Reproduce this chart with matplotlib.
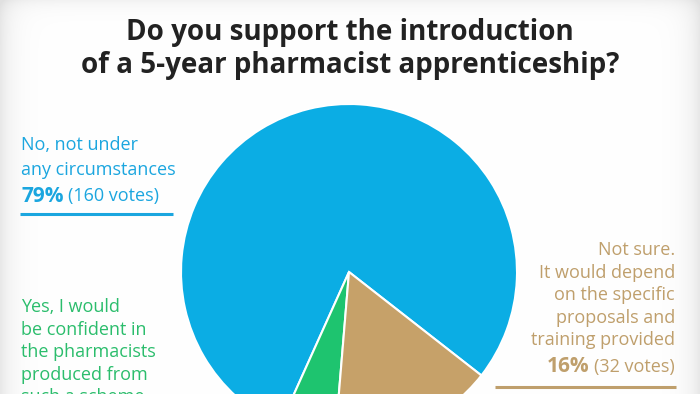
import numpy as np
import matplotlib.pyplot as plt

plt.rcParams['font.family'] = ['Open Sans', 'DejaVu Sans']

# poll results
answers = ["No, not under any circumstances", "Yes, I would be confident", "Not sure"]
votes = [160, 11, 32]
percents = ["79%", "5%", "16%"]
vote_labels = ["(160 votes)", "(11 votes)", "(32 votes)"]
colors = ["#0badE4", "#1ec46f", "#c6a169"]
text_colors = ["#1ba6df", "#2bbd6c", "#bf9f6c"]

title = "Do you support the introduction\nof a 5-year pharmacist apprenticeship?"
no_lines = ["No, not under", "any circumstances"]
yes_lines = ["Yes, I would", "be confident in", "the pharmacists", "produced from", "such a scheme"]
unsure_lines = ["Not sure.", "It would depend", "on the specific", "proposals and", "training provided"]

W, H = 700, 394


def Y(y):
    # pixel row (from top) -> data y
    return H - y


fig = plt.figure(figsize=(7, 3.94), dpi=100)
ax = fig.add_axes([0, 0, 1, 1])

# soft grey vignette at the edges
xx = np.arange(W)
yy = np.arange(H)
dx = np.minimum(xx, W - 1 - xx)[None, :]
dy = yy[:, None]
shade = np.clip(np.exp(-dx / 12.0) * 0.09 + np.exp(-dy / 8.0) * 0.05, 0, 0.12)
bg = np.ones((H, W, 3)) - shade[..., None]
ax.imshow(bg, extent=(0, W, 0, H), origin='upper', zorder=0)

ax.pie(votes, colors=colors, startangle=-38, center=(349, Y(272)), radius=168,
       wedgeprops=dict(edgecolor='white', linewidth=1.5), normalize=True)
ax.set_xlim(0, W)
ax.set_ylim(0, H)
ax.set_aspect('auto')
ax.axis('off')

ax.text(350, Y(49), title, ha='center', va='center', fontsize=20,
        fontweight='bold', color='#222222', linespacing=1.15)

fs = 13
# "No" label, left
for i, line in enumerate(no_lines):
    ax.text(21, Y(145 + 24.5 * i), line, ha='left', va='center',
            fontsize=fs, color=text_colors[0])
fig.canvas.draw()
r = fig.canvas.get_renderer()
t = ax.text(21, Y(196), percents[0], ha='left', va='center', fontsize=15,
            fontweight='bold', color=text_colors[0])
bb = t.get_window_extent(r)
ax.text(bb.x1 + 5, Y(196), vote_labels[0], ha='left', va='center',
        fontsize=fs, color=text_colors[0])
ax.plot([20, 173], [Y(214), Y(214)], color=text_colors[0], lw=2.2,
        solid_capstyle='butt')

# "Yes" label, left bottom
for i, line in enumerate(yes_lines):
    ax.text(21, Y(307 + 22.6 * i), line, ha='left', va='center',
            fontsize=fs, color=text_colors[1])

# "Not sure" label, right
for i, line in enumerate(unsure_lines):
    ax.text(675, Y(250 + 22.6 * i), line, ha='right', va='center',
            fontsize=fs, color=text_colors[2])
t2 = ax.text(675, Y(367), vote_labels[2], ha='right', va='center',
             fontsize=fs, color=text_colors[2])
bb2 = t2.get_window_extent(r)
ax.text(bb2.x0 - 5, Y(367), percents[2], ha='right', va='center', fontsize=15,
        fontweight='bold', color=text_colors[2])
ax.plot([495, 676], [Y(387), Y(387)], color=text_colors[2], lw=2.2,
        solid_capstyle='butt')

fig.savefig("out.png", dpi=100)
